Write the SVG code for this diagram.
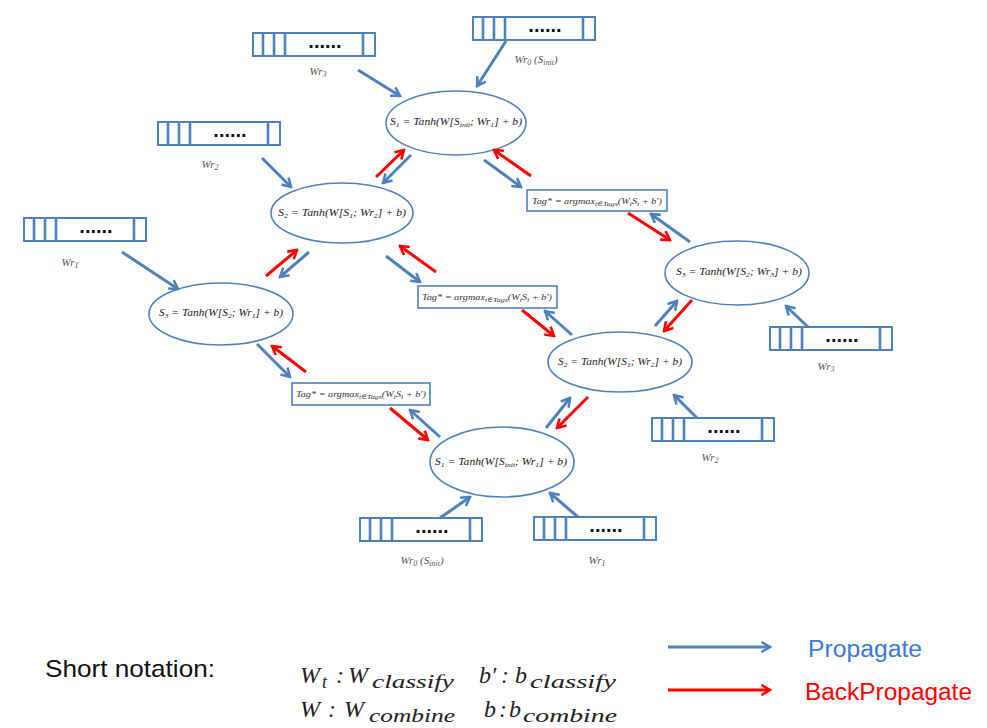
<svg xmlns="http://www.w3.org/2000/svg" xmlns:xlink="http://www.w3.org/1999/xlink" width="987" height="728" viewBox="0 0 987 728">
<style>
.bg{fill:#ffffff}
.ell{fill:#ffffff;stroke:#4F81BD;stroke-width:1.6}
.tag{fill:#ffffff;stroke:#4F81BD;stroke-width:1.6}
.ft{font-family:"Liberation Serif","DejaVu Serif",serif;font-style:italic;font-size:10.5px;fill:#222222}
.tt{font-family:"Liberation Serif","DejaVu Serif",serif;font-style:italic;font-size:9px;fill:#333333}
.lb{font-family:"Liberation Serif","DejaVu Serif",serif;font-style:italic;font-size:11px;fill:#555555}
.sb{font-size:7px}
.lsb{font-size:8px}
.vr{fill:#ffffff;stroke:#4F81BD;stroke-width:2}
.vl{stroke:#4F81BD;stroke-width:2.6}
.dots{font-family:"Liberation Sans",Arial,sans-serif;font-weight:bold;font-size:20px;fill:#111111}
.pb{fill:none;stroke:#4F81BD;stroke-width:3;marker-end:url(#ab)}
.pr{fill:none;stroke:#FF0000;stroke-width:3;marker-end:url(#ar)}
.sn{font-family:"Liberation Sans",Arial,sans-serif;font-size:24px;fill:#111111}
.fm{font-family:"Liberation Serif","DejaVu Serif",serif;font-style:italic;font-size:24px;fill:#222222}
.fs{font-family:"Liberation Serif","DejaVu Serif",serif;font-style:italic;font-size:18px;fill:#222222}
.lg{font-family:"Liberation Sans",Arial,sans-serif;font-size:23px}
</style>
<defs>
<marker id="ab" viewBox="0 0 12 12" refX="10" refY="6" markerWidth="12" markerHeight="12" markerUnits="userSpaceOnUse" orient="auto">
<path d="M1.5,1 L10,6 L1.5,11" fill="none" stroke="#4F81BD" stroke-width="2.6"/>
</marker>
<marker id="ar" viewBox="0 0 12 12" refX="10" refY="6" markerWidth="12" markerHeight="12" markerUnits="userSpaceOnUse" orient="auto">
<path d="M1.5,1 L10,6 L1.5,11" fill="none" stroke="#FF0000" stroke-width="2.6"/>
</marker>
<g id="vec">
<rect class="vr" x="0" y="0" width="122" height="23"/>
<line class="vl" x1="10" y1="0" x2="10" y2="23"/>
<line class="vl" x1="21" y1="0" x2="21" y2="23"/>
<line class="vl" x1="32" y1="0" x2="32" y2="23"/>
<line class="vl" x1="110" y1="0" x2="110" y2="23"/>
<text class="dots" x="72" y="15" text-anchor="middle">......</text>
</g>
</defs>
<rect class="bg" x="0" y="0" width="987" height="728"/>

<g id="vec-wr3-top"><use xlink:href="#vec" x="253" y="33"/><text class="lb" x="318" y="75" text-anchor="middle">Wr<tspan class="lsb" dy="2">3</tspan></text></g>
<g id="vec-wr0-top"><use xlink:href="#vec" x="473" y="17"/><text class="lb" x="536" y="63" text-anchor="middle">Wr<tspan class="lsb" dy="2">0</tspan><tspan dy="-2"> (S</tspan><tspan class="lsb" dy="2">init</tspan><tspan dy="-2">)</tspan></text></g>
<g id="vec-wr2-left"><use xlink:href="#vec" x="158" y="122"/><text class="lb" x="210" y="168" text-anchor="middle">Wr<tspan class="lsb" dy="2">2</tspan></text></g>
<g id="vec-wr1-left"><use xlink:href="#vec" x="24" y="218"/><text class="lb" x="70" y="266" text-anchor="middle">Wr<tspan class="lsb" dy="2">1</tspan></text></g>
<g id="vec-wr3-right"><use xlink:href="#vec" x="770" y="327"/><text class="lb" x="826" y="370" text-anchor="middle">Wr<tspan class="lsb" dy="2">3</tspan></text></g>
<g id="vec-wr2-right"><use xlink:href="#vec" x="652" y="418"/><text class="lb" x="710" y="461" text-anchor="middle">Wr<tspan class="lsb" dy="2">2</tspan></text></g>
<g id="vec-wr0-bottom"><use xlink:href="#vec" x="360" y="518"/><text class="lb" x="422" y="564" text-anchor="middle">Wr<tspan class="lsb" dy="2">0</tspan><tspan dy="-2"> (S</tspan><tspan class="lsb" dy="2">init</tspan><tspan dy="-2">)</tspan></text></g>
<g id="vec-wr1-bottom"><use xlink:href="#vec" x="534" y="517"/><text class="lb" x="597" y="564" text-anchor="middle">Wr<tspan class="lsb" dy="2">1</tspan></text></g>

<g id="node-left-s1"><ellipse class="ell" cx="456" cy="123" rx="70" ry="32"/>
<text class="ft" x="456" y="125" text-anchor="middle" textLength="132" lengthAdjust="spacingAndGlyphs">S<tspan class="sb" dy="2">1</tspan><tspan dy="-2"> = Tanh(W[S</tspan><tspan class="sb" dy="2">init</tspan><tspan dy="-2">; Wr</tspan><tspan class="sb" dy="2">1</tspan><tspan dy="-2">] + b)</tspan></text></g>
<g id="node-left-s2"><ellipse class="ell" cx="342" cy="213" rx="71" ry="30"/>
<text class="ft" x="342" y="216" text-anchor="middle" textLength="128" lengthAdjust="spacingAndGlyphs">S<tspan class="sb" dy="2">2</tspan><tspan dy="-2"> = Tanh(W[S</tspan><tspan class="sb" dy="2">1</tspan><tspan dy="-2">; Wr</tspan><tspan class="sb" dy="2">2</tspan><tspan dy="-2">] + b)</tspan></text></g>
<g id="node-left-s3"><ellipse class="ell" cx="221" cy="314" rx="72" ry="31"/>
<text class="ft" x="221" y="316" text-anchor="middle" textLength="124" lengthAdjust="spacingAndGlyphs">S<tspan class="sb" dy="2">3</tspan><tspan dy="-2"> = Tanh(W[S</tspan><tspan class="sb" dy="2">2</tspan><tspan dy="-2">; Wr</tspan><tspan class="sb" dy="2">1</tspan><tspan dy="-2">] + b)</tspan></text></g>
<g id="node-right-s3"><ellipse class="ell" cx="737" cy="273" rx="72" ry="32"/>
<text class="ft" x="739" y="275" text-anchor="middle" textLength="126" lengthAdjust="spacingAndGlyphs">S<tspan class="sb" dy="2">3</tspan><tspan dy="-2"> = Tanh(W[S</tspan><tspan class="sb" dy="2">2</tspan><tspan dy="-2">; Wr</tspan><tspan class="sb" dy="2">3</tspan><tspan dy="-2">] + b)</tspan></text></g>
<g id="node-right-s2"><ellipse class="ell" cx="620" cy="362" rx="72" ry="30"/>
<text class="ft" x="620" y="365" text-anchor="middle" textLength="124" lengthAdjust="spacingAndGlyphs">S<tspan class="sb" dy="2">2</tspan><tspan dy="-2"> = Tanh(W[S</tspan><tspan class="sb" dy="2">1</tspan><tspan dy="-2">; Wr</tspan><tspan class="sb" dy="2">2</tspan><tspan dy="-2">] + b)</tspan></text></g>
<g id="node-right-s1"><ellipse class="ell" cx="502" cy="462" rx="72" ry="35"/>
<text class="ft" x="501" y="465" text-anchor="middle" textLength="132" lengthAdjust="spacingAndGlyphs">S<tspan class="sb" dy="2">1</tspan><tspan dy="-2"> = Tanh(W[S</tspan><tspan class="sb" dy="2">init</tspan><tspan dy="-2">; Wr</tspan><tspan class="sb" dy="2">1</tspan><tspan dy="-2">] + b)</tspan></text></g>

<g id="tag-a"><rect class="tag" x="527" y="190" width="140" height="21"/>
<text class="tt" x="597" y="204" text-anchor="middle" textLength="130" lengthAdjust="spacingAndGlyphs">Tag* = argmax<tspan class="sb" dy="2">t∈Tags</tspan><tspan dy="-2">(W</tspan><tspan class="sb" dy="2">t</tspan><tspan dy="-2">S</tspan><tspan class="sb" dy="2">i</tspan><tspan dy="-2"> + b′)</tspan></text></g>
<g id="tag-b"><rect class="tag" x="418" y="286" width="139" height="22"/>
<text class="tt" x="487" y="300" text-anchor="middle" textLength="130" lengthAdjust="spacingAndGlyphs">Tag* = argmax<tspan class="sb" dy="2">t∈Tags</tspan><tspan dy="-2">(W</tspan><tspan class="sb" dy="2">t</tspan><tspan dy="-2">S</tspan><tspan class="sb" dy="2">i</tspan><tspan dy="-2"> + b′)</tspan></text></g>
<g id="tag-c"><rect class="tag" x="292" y="383" width="138" height="22"/>
<text class="tt" x="361" y="397" text-anchor="middle" textLength="130" lengthAdjust="spacingAndGlyphs">Tag* = argmax<tspan class="sb" dy="2">t∈Tags</tspan><tspan dy="-2">(W</tspan><tspan class="sb" dy="2">t</tspan><tspan dy="-2">S</tspan><tspan class="sb" dy="2">i</tspan><tspan dy="-2"> + b′)</tspan></text></g>

<g id="connectors">
<line class="pb" x1="358" y1="70" x2="400" y2="96"/>
<line class="pb" x1="506" y1="41" x2="477" y2="86"/>
<line class="pb" x1="262" y1="158" x2="291" y2="187"/>
<line class="pb" x1="122" y1="252" x2="178" y2="289"/>
<line class="pb" x1="808" y1="327" x2="786" y2="306"/>
<line class="pb" x1="697" y1="418" x2="674" y2="395"/>
<line class="pb" x1="440" y1="518" x2="470" y2="497"/>
<line class="pb" x1="578" y1="517" x2="550" y2="493"/>

<line class="pb" x1="411" y1="155" x2="383" y2="183"/>
<line class="pr" x1="376" y1="177" x2="404" y2="150"/>
<line class="pb" x1="309" y1="252" x2="280" y2="277"/>
<line class="pr" x1="266" y1="276" x2="297" y2="250"/>

<line class="pb" x1="484" y1="160" x2="521" y2="187"/>
<line class="pr" x1="531" y1="176" x2="494" y2="150"/>
<line class="pb" x1="386" y1="256" x2="420" y2="282"/>
<line class="pr" x1="436" y1="272" x2="400" y2="246"/>
<line class="pb" x1="257" y1="344" x2="290" y2="377"/>
<line class="pr" x1="306" y1="372" x2="272" y2="346"/>

<line class="pr" x1="628" y1="213" x2="670" y2="240"/>
<line class="pb" x1="690" y1="242" x2="651" y2="214"/>
<line class="pr" x1="522" y1="310" x2="554" y2="336"/>
<line class="pb" x1="572" y1="335" x2="545" y2="311"/>
<line class="pr" x1="390" y1="408" x2="428" y2="440"/>
<line class="pb" x1="440" y1="437" x2="410" y2="410"/>

<line class="pb" x1="655" y1="326" x2="677" y2="301"/>
<line class="pr" x1="692" y1="300" x2="664" y2="331"/>
<line class="pb" x1="546" y1="428" x2="570" y2="398"/>
<line class="pr" x1="588" y1="397" x2="557" y2="428"/>
</g>

<g id="legend">
<text class="sn" x="45" y="677" textLength="170" lengthAdjust="spacingAndGlyphs">Short notation:</text>
<text class="fm" x="300" y="683">W</text>
<text class="fs" x="322" y="688">t</text>
<text class="fm" x="336" y="683">:</text>
<text class="fm" x="348" y="683">W</text>
<text class="fs" x="372" y="688" textLength="82" lengthAdjust="spacingAndGlyphs">classify</text>
<text class="fm" x="479" y="683">b′</text>
<text class="fm" x="501" y="683">:</text>
<text class="fm" x="515" y="683">b</text>
<text class="fs" x="530" y="688" textLength="86" lengthAdjust="spacingAndGlyphs">classify</text>

<text class="fm" x="300" y="717">W</text>
<text class="fm" x="328" y="717">:</text>
<text class="fm" x="344" y="717">W</text>
<text class="fs" x="369" y="722" textLength="86" lengthAdjust="spacingAndGlyphs">combine</text>
<text class="fm" x="484" y="717">b</text>
<text class="fm" x="499" y="717">:</text>
<text class="fm" x="509" y="717">b</text>
<text class="fs" x="523" y="722" textLength="94" lengthAdjust="spacingAndGlyphs">combine</text>

<line class="pb" x1="668" y1="647" x2="770" y2="647"/>
<line class="pr" x1="668" y1="690" x2="770" y2="690"/>
<text class="lg" x="808" y="657" fill="#3C78D8" textLength="114" lengthAdjust="spacingAndGlyphs">Propagate</text>
<text class="lg" x="805" y="700" fill="#FF0000" textLength="167" lengthAdjust="spacingAndGlyphs">BackPropagate</text>
</g>
</svg>
